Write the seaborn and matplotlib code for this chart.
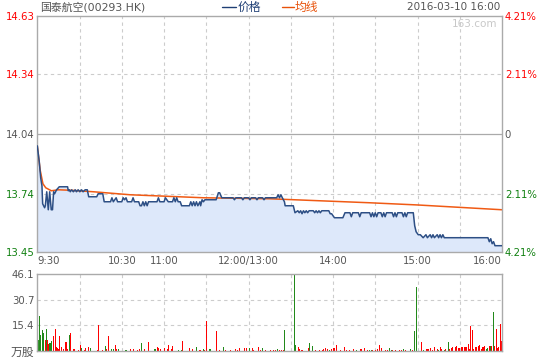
import matplotlib
matplotlib.use("Agg")
import matplotlib.pyplot as plt
from matplotlib.lines import Line2D
import seaborn as sns

# ---------------- data ----------------
price_t = [0, 1.4, 2.4, 3.3, 3.8, 5.2, 5.7, 6.7, 7.8, 8.8, 9.9, 10.8, 11.6, 12.3, 13.7, 15.6,
           21.5, 22.0, 22.7, 23.4, 24.4, 25.6, 26.9, 27.8, 29.0, 30.2, 31.4, 32.5, 34.0, 35.5,
           36.5, 42.2, 43.2, 46.5, 47.5, 52, 53, 54, 56, 57, 60, 61, 62, 63, 64, 67, 68, 69, 72,
           73, 74, 75, 76, 77, 78, 79, 85, 86, 87, 90, 91, 92, 93, 96, 97, 98, 99, 100, 101.5,
           102.5, 108, 109, 110, 111, 112, 113, 114, 115.5, 116, 117, 118, 119, 127, 128.6, 129.5,
           131, 139, 140, 141, 145, 146, 147, 150, 151, 152, 155, 156, 157, 160, 161, 162, 170,
           171, 172, 173, 174, 175.5, 176, 181.8, 183, 185, 186, 187, 188, 189, 190, 191, 192,
           193, 196, 197, 198, 199, 200, 201, 202, 207, 208, 209, 211, 217, 218.5, 222, 223, 224,
           228, 229, 230, 236, 237, 238, 239, 240, 241, 242, 244, 245, 246, 247, 248, 252, 253,
           254, 255, 256, 259, 260, 261, 262, 263, 267, 268, 269, 270.5, 272, 274, 276, 277, 279,
           280, 281, 282, 284, 285, 286, 287, 288, 289, 291, 320, 321, 322, 323, 324, 325, 330]
price_v = [13.98, 13.90, 13.82, 13.78, 13.69, 13.67, 13.68, 13.75, 13.66, 13.75, 13.66, 13.66,
           13.75, 13.74, 13.76, 13.775, 13.775, 13.755, 13.76, 13.75, 13.76, 13.75, 13.76, 13.75,
           13.76, 13.75, 13.76, 13.75, 13.76, 13.76, 13.725, 13.725, 13.74, 13.74, 13.70, 13.70,
           13.72, 13.70, 13.72, 13.70, 13.70, 13.72, 13.71, 13.72, 13.70, 13.70, 13.72, 13.70,
           13.70, 13.68, 13.68, 13.70, 13.68, 13.70, 13.68, 13.70, 13.70, 13.72, 13.70, 13.70,
           13.72, 13.71, 13.70, 13.70, 13.72, 13.70, 13.72, 13.70, 13.70, 13.68, 13.68, 13.70,
           13.68, 13.70, 13.68, 13.70, 13.68, 13.70, 13.68, 13.71, 13.70, 13.71, 13.71, 13.745,
           13.745, 13.72, 13.72, 13.71, 13.72, 13.72, 13.71, 13.72, 13.72, 13.71, 13.72, 13.72,
           13.71, 13.72, 13.72, 13.71, 13.72, 13.72, 13.735, 13.72, 13.735, 13.72, 13.70, 13.68,
           13.68, 13.645, 13.655, 13.645, 13.655, 13.64, 13.655, 13.645, 13.655, 13.645, 13.655,
           13.655, 13.645, 13.655, 13.645, 13.655, 13.645, 13.655, 13.655, 13.64, 13.64, 13.62,
           13.62, 13.645, 13.645, 13.625, 13.645, 13.645, 13.625, 13.645, 13.645, 13.625, 13.645,
           13.625, 13.645, 13.625, 13.645, 13.645, 13.625, 13.645, 13.625, 13.645, 13.645, 13.625,
           13.645, 13.625, 13.645, 13.645, 13.625, 13.645, 13.625, 13.645, 13.645, 13.58, 13.55,
           13.535, 13.535, 13.52, 13.535, 13.52, 13.535, 13.52, 13.535, 13.52, 13.535, 13.52,
           13.535, 13.52, 13.535, 13.52, 13.52, 13.52, 13.50, 13.515, 13.49, 13.50, 13.48, 13.48]

avg_t = [0, 2, 4, 6, 10, 15, 25, 40, 66, 118, 165, 236, 270, 330]
avg_v = [13.98, 13.86, 13.79, 13.77, 13.755, 13.76, 13.757, 13.75, 13.735, 13.72, 13.715,
         13.695, 13.684, 13.66]

vol_t = [0.7, 1.4, 2.6, 3.6, 4.3, 5.5, 6.2, 7.4, 8.3, 9.0, 10.2, 11.4, 12.6, 13.3, 14.2, 15.4,
         16.1, 17.3, 18.5, 20.4, 21.2, 22.7, 23.9, 25.6, 26.4, 29.2, 30.4, 31.1, 33.2, 34.0,
         36.1, 37.5, 42.6, 43.3, 46.2, 48.3, 49.0, 50.4, 52.5, 54.0, 55.4, 56.3, 57.4, 62.4,
         63.1, 66.0, 68.1, 71.0, 72.4, 73.9, 76.0, 78.8, 83.1, 83.8, 85.2, 85.9, 87.3, 90.1,
         92.3, 93.0, 95.1, 95.9, 100.1, 102.2, 103.0, 108.0, 110.1, 112.9, 115.1, 115.8, 117.9,
         118.6, 120.0, 122.1, 122.8, 127.1, 129.2, 132.1, 133.5, 137.0, 140.6,
         142.0, 143.5, 147.0, 148.4, 150.6, 152.7, 153.4, 157.0, 158.4, 159.8, 161.9, 165.5,
         167.6, 169.0, 170.5, 171.9, 173.3, 174.7, 175.4, 182.5, 183.2, 185.4, 186.1, 187.5,
         188.2, 192.5, 193.2, 195.3, 197.4, 200.3, 202.4, 203.1, 204.5, 206.0, 207.4, 208.8,
         210.2, 210.9, 212.4, 215.2, 218.0, 219.5, 221.6, 224.4, 226.6, 229.4, 230.1, 232.2,
         234.4, 235.8, 237.2, 237.9, 240.1, 241.5, 242.9, 244.3, 247.2, 248.6, 250.0, 251.4,
         252.1, 254.3, 257.1, 258.5, 259.9, 261.4, 264.9, 266.3, 267.8, 269.2, 272.7, 274.1,
         276.3, 277.0, 277.7, 279.1, 280.5, 282.0, 284.1, 284.8, 286.2, 286.9, 289.1, 289.8,
         291.9, 292.6, 294.0, 294.7, 296.9, 297.6, 299.0, 299.7, 301.1, 301.8, 303.3, 304.0,
         304.7, 306.1, 306.8, 307.5, 308.9, 309.7, 311.1, 311.8, 313.2, 313.9, 315.3, 316.1,
         316.8, 317.5, 318.9, 319.6, 321.0, 321.7, 322.4, 323.9, 324.6, 326.0, 326.7, 327.4,
         328.8, 329.5]
vol_v = [6.6, 21.0, 9.6, 12.6, 10.6, 6.8, 13.2, 6.6, 4.0, 5.0, 6.0, 9.0, 13.2, 2.6, 2.0, 1.5,
         9.0, 2.6, 1.2, 5.4, 1.0, 9.6, 10.6, 1.0, 1.2, 0.6, 3.6, 1.6, 0.6, 1.6,
         2.4, 1.6, 0.6, 15.6, 0.6, 3.0, 1.2, 9.0, 1.0, 1.2, 3.6, 1.0, 1.2, 0.6,
         0.6, 1.2, 1.2, 0.6, 1.2, 4.8, 1.2, 5.4, 1.2, 1.2, 2.4, 2.0, 1.2, 1.6,
         1.2, 3.6, 1.0, 3.0, 0.6, 0.6, 6.0, 2.0, 1.0, 2.4, 0.6, 0.6, 1.2,
         0.6, 18.0, 1.2, 1.2, 12.0, 0.6, 2.4, 0.6, 0.6, 1.2,
         0.8, 1.6, 1.6, 1.6, 1.6, 1.6, 0.8, 2.2, 0.8, 1.6, 0.8, 0.8,
         0.8, 0.8, 1.2, 0.8, 0.8, 0.8, 12.6, 46.1, 3.6, 2.2, 1.0, 0.8,
         0.8, 1.6, 4.8, 3.0, 0.8, 0.8, 0.8, 1.2, 1.6, 1.2, 0.8, 1.2,
         1.6, 1.6, 3.6, 0.6, 2.4, 0.6, 0.6, 1.2, 0.6, 1.2, 1.2, 2.0,
         0.6, 0.6, 0.6, 0.6, 0.6, 1.2, 3.6, 2.0, 0.6, 0.6, 2.0, 0.6,
         0.6, 0.6, 0.6, 0.6, 1.2, 0.6, 1.2, 0.6, 12.0, 38.6, 5.4, 0.8,
         1.2, 1.2, 1.2, 1.6, 0.8, 2.4, 1.2, 0.8, 2.4, 1.2, 0.8, 1.2,
         5.4, 1.2, 1.6, 2.2, 2.2, 3.0, 1.6, 1.6, 2.2, 2.2, 2.4, 2.4,
         2.4, 4.2, 1.2, 15.0, 12.6, 1.2, 2.2, 2.2, 3.0, 3.6, 1.2, 2.2,
         2.2, 3.0, 1.2, 1.6, 3.0, 3.0, 3.0, 23.4, 3.0, 13.2, 1.6, 2.2,
         16.2, 6.0]
vol_dir = list("gggggrgrrggrrrrr"
               "rrrrrgrrrrrgrr"
               "rgrrrgrrggrrgg"
               "grrrrgrrggrrrr"
               "rrrrggrrrgrrg"
               "rrggrrgrrr"
               "rrrrgrrrrgrr"
               "rrgrrrgggrrr"
               "rrggrrrrrrgr"
               "rrrrrrrrgrrr"
               "rggrrrrrrrgg"
               "rrrrgrgrggrg"
               "rrrrrrrgrrgr"
               "grrrrrrrrrrr"
               "rrrrrrrrrrrr"
               "rrggrgrgrrrr"
               "rr")

time_ticks = [0, 30, 60, 90, 120, 150, 180, 210, 240, 270, 300, 330]
time_labels = ["9:30", "", "10:30", "11:00", "", "12:00/13:00", "", "14:00", "", "15:00", "", "16:00"]
price_ticks = [13.45, 13.74, 14.04, 14.34, 14.63]
price_labels = ["13.45", "13.74", "14.04", "14.34", "14.63"]
pct_labels = ["4.21%", "2.11%", "0", "2.11%", "4.21%"]
vol_ticks = [0, 15.4, 30.7, 46.1]
vol_labels = ["万股", "15.4", "30.7", "46.1"]

# ---------------- style ----------------
sns.set_style("white")
plt.rcParams["font.family"] = ["DejaVu Sans", "Noto Sans CJK SC"]

RED = "#ff0000"
GREEN = "#108010"
GRAY = "#555555"
FRAME = "#aaaaaa"
GRID = "#cccccc"
BLUE = "#2d4f85"
ORANGE = "#f05a14"
FS = 7.3

fig = plt.figure(figsize=(5.4, 3.6), dpi=100)
L, W = 37.3 / 540, (502 - 37.3) / 540
ax = fig.add_axes([L, 1 - 251.7 / 360, W, (251.7 - 16) / 360])
axv = fig.add_axes([L, 1 - 351 / 360, W, (351 - 274.3) / 360])

# main price chart
ax.fill_between(price_t, price_v, 13.45, color="#dde8fa", lw=0, zorder=1)
sns.lineplot(x=price_t, y=price_v, ax=ax, color=BLUE, lw=1.1, estimator=None, zorder=3)
sns.lineplot(x=avg_t, y=avg_v, ax=ax, color=ORANGE, lw=1.1, estimator=None, zorder=2)
ax.set_xlim(0, 330)
ax.set_ylim(13.45, 14.63)
ax.set_xticks(time_ticks)
ax.set_xticklabels([])
ax.set_yticks(price_ticks)
ax.set_yticklabels(price_labels, fontsize=FS)
for lab, c in zip(ax.get_yticklabels(), [GREEN, GREEN, GRAY, RED, RED]):
    lab.set_color(c)
ax.tick_params(length=0, pad=2)
for t in time_ticks[1:-1]:
    ax.axvline(t, color=GRID, ls=(0, (3, 3)), lw=0.8, zorder=0.5)
for yv in [13.74, 14.34]:
    ax.axhline(yv, color=GRID, ls=(0, (3, 3)), lw=0.8, zorder=0.5)
ax.axhline(14.04, color=FRAME, lw=0.9, zorder=0.5)
for s in ax.spines.values():
    s.set_color(FRAME)
    s.set_linewidth(1.0)
ax.set_xlabel("")
ax.set_ylabel("")

# time labels
for t, lab in zip(time_ticks, time_labels):
    if not lab:
        continue
    ha = "left" if t == 0 else ("right" if t == 330 else "center")
    ax.text(t, -0.018, lab, transform=ax.get_xaxis_transform(), ha=ha, va="top",
            fontsize=FS, color=GRAY)

axr = ax.twinx()
axr.set_ylim(13.45, 14.63)
axr.set_yticks(price_ticks)
axr.set_yticklabels(pct_labels, fontsize=FS)
for lab, c in zip(axr.get_yticklabels(), [GREEN, GREEN, GRAY, RED, RED]):
    lab.set_color(c)
axr.tick_params(length=0, pad=2)
for s in axr.spines.values():
    s.set_visible(False)

# volume chart
colors = [RED if d == "r" else "#22891a" for d in vol_dir]
axv.bar(vol_t, vol_v, width=0.75, color=colors, lw=0)
axv.set_xlim(0, 330)
axv.set_ylim(0, 46.1)
axv.set_xticks([])
axv.set_yticks(vol_ticks)
axv.set_yticklabels(vol_labels, fontsize=FS, color=GRAY)
axv.get_yticklabels()[0].set_fontsize(8.5)
axv.tick_params(length=0, pad=2)
for t in time_ticks[1:-1]:
    axv.axvline(t, color=GRID, ls=(0, (3, 3)), lw=0.8, zorder=0)
for yv in [15.4, 30.7]:
    axv.axhline(yv, color=GRID, ls=(0, (3, 3)), lw=0.8, zorder=0)
for s in axv.spines.values():
    s.set_color(FRAME)
    s.set_linewidth(1.0)

# header
Y = 1 - 7 / 360
fig.text(40 / 540, Y, "国泰航空(00293.HK)", fontsize=7.8, color=GRAY, va="center", ha="left")
fig.add_artist(Line2D([222 / 540, 236 / 540], [Y, Y], color="#1f3f75", lw=1.0))
fig.text(238 / 540, Y, "价格", fontsize=8.5, color="#1f3f75", va="center", ha="left")
fig.add_artist(Line2D([282 / 540, 294 / 540], [Y, Y], color="#e8520a", lw=1.0))
fig.text(295 / 540, Y, "均线", fontsize=8.5, color="#e8520a", va="center", ha="left")
fig.text(500 / 540, Y, "2016-03-10 16:00", fontsize=7.5, color=GRAY, va="center", ha="right")
fig.text(497 / 540, 1 - 24 / 360, "163.com", fontsize=7.5, color="#c8c8c8", va="center", ha="right")

fig.savefig("out.png", dpi=100)
